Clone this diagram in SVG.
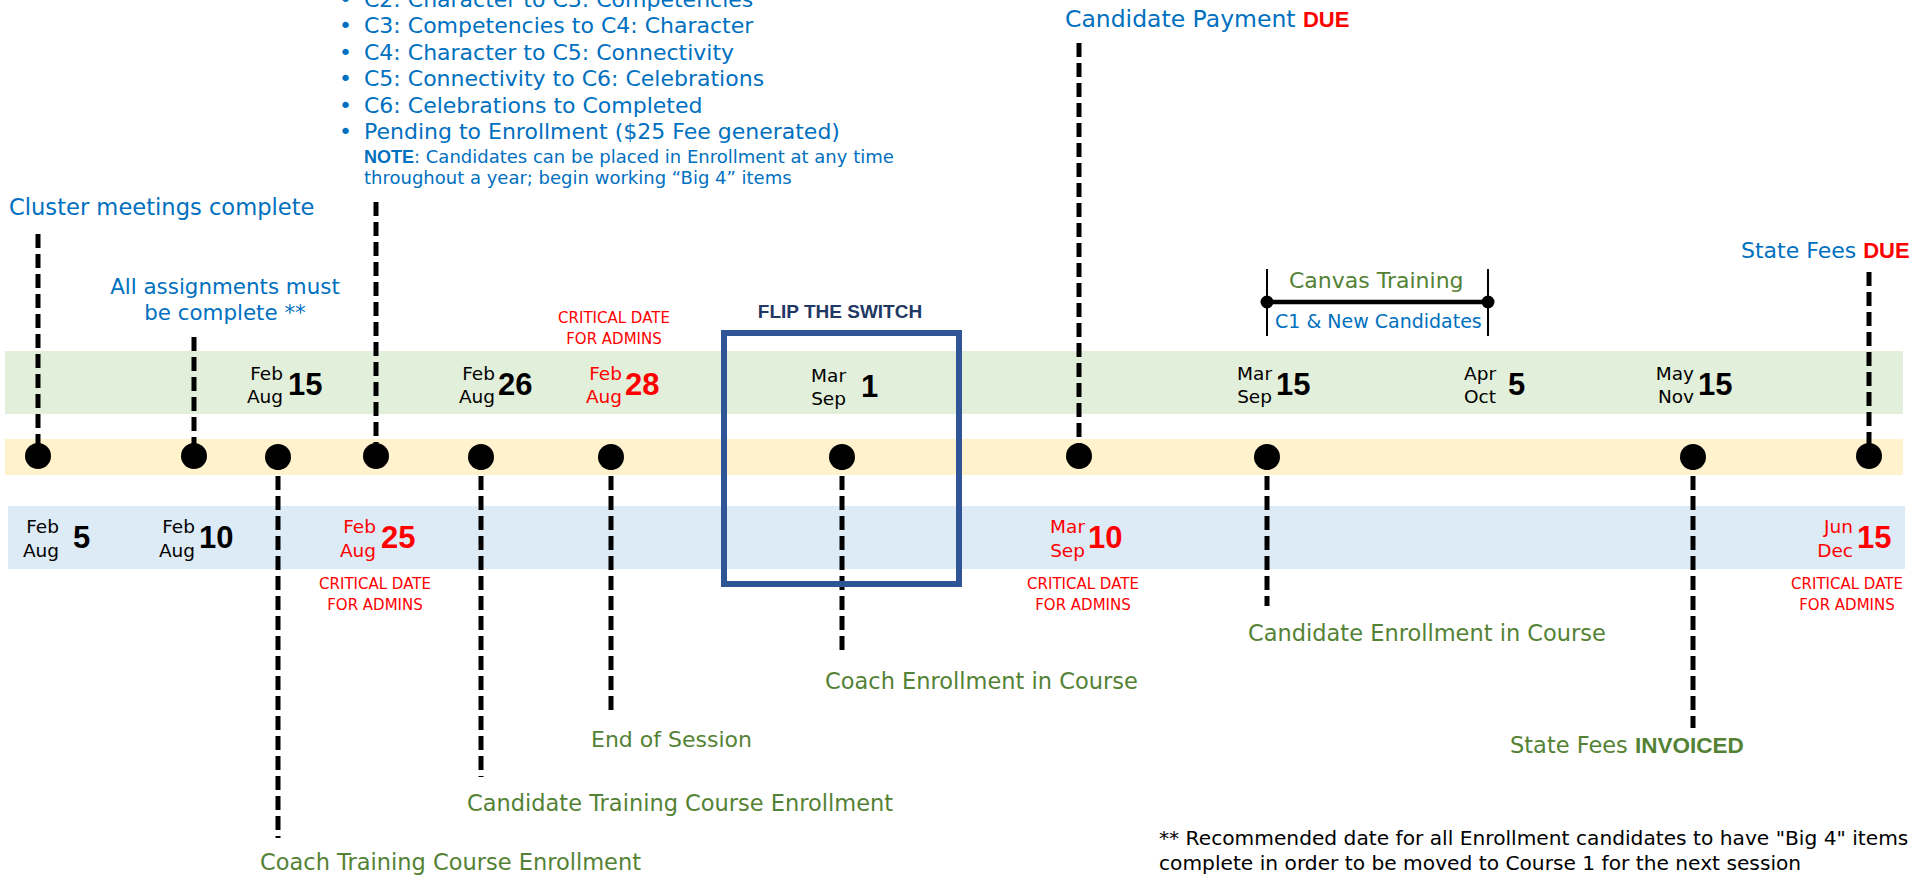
<svg xmlns="http://www.w3.org/2000/svg" width="1931" height="878" viewBox="0 0 1931 878">
<style>
text{font-family:"DejaVu Sans",sans-serif;}
.blue{fill:#0070C0}
.green{fill:#548235}
.red{fill:#FF0000}
.blk{fill:#000}
.lbl{font-size:22.5px}
.list{font-size:22px;fill:#0070C0}
.mon{font-size:18.5px;text-anchor:end}
.num{font-family:"Liberation Sans",Arial,sans-serif;font-weight:bold;font-size:31px}
.bold{font-family:"Liberation Sans",Arial,sans-serif;font-weight:bold}
.crit{font-size:15px;fill:#FF0000;text-anchor:middle}
.dash{stroke:#000;stroke-width:5;stroke-dasharray:14 6;fill:none}
.dot{fill:#000}
</style>
<g id="bands">
<rect x="5" y="351" width="1898" height="63" fill="#E2EFDA"/>
<rect x="5" y="439" width="1898" height="36" fill="#FFF2CC"/>
<rect x="8" y="506" width="1897" height="63" fill="#DDEBF7"/>
</g>
<g id="connectors">
<line class="dash" x1="38" y1="234" x2="38" y2="456"/>
<line class="dash" x1="194" y1="337" x2="194" y2="456"/>
<line class="dash" x1="278" y1="456" x2="278" y2="838"/>
<line class="dash" x1="376" y1="202" x2="376" y2="456"/>
<line class="dash" x1="481" y1="456" x2="481" y2="777"/>
<line class="dash" x1="611" y1="456" x2="611" y2="712"/>
<line class="dash" x1="842" y1="456" x2="842" y2="652"/>
<line class="dash" x1="1079" y1="43" x2="1079" y2="456"/>
<line class="dash" x1="1267" y1="456" x2="1267" y2="606"/>
<line class="dash" x1="1693" y1="456" x2="1693" y2="728"/>
<line class="dash" x1="1869" y1="272" x2="1869" y2="456"/>
</g>
<g id="dots">
<circle class="dot" cx="38" cy="456" r="13"/>
<circle class="dot" cx="194" cy="456" r="13"/>
<circle class="dot" cx="278" cy="457" r="13"/>
<circle class="dot" cx="376" cy="456" r="13"/>
<circle class="dot" cx="481" cy="457" r="13"/>
<circle class="dot" cx="611" cy="457" r="13"/>
<circle class="dot" cx="842" cy="457" r="13"/>
<circle class="dot" cx="1079" cy="456" r="13"/>
<circle class="dot" cx="1267" cy="457" r="13"/>
<circle class="dot" cx="1693" cy="457" r="13"/>
<circle class="dot" cx="1869" cy="456" r="13"/>
</g>
<g id="status-list">
<text class="list" x="339" y="6.5">•</text><text class="list" x="364" y="6.5">C2: Character to C3: Competencies</text>
<text class="list" x="339" y="33">•</text><text class="list" x="364" y="33">C3: Competencies to C4: Character</text>
<text class="list" x="339" y="59.5">•</text><text class="list" x="364" y="59.5">C4: Character to C5: Connectivity</text>
<text class="list" x="339" y="86">•</text><text class="list" x="364" y="86">C5: Connectivity to C6: Celebrations</text>
<text class="list" x="339" y="112.5">•</text><text class="list" x="364" y="112.5">C6: Celebrations to Completed</text>
<text class="list" x="339" y="139">•</text><text class="list" x="364" y="139">Pending to Enrollment ($25 Fee generated)</text>
<text class="blue" x="364" y="163" font-size="18"><tspan class="bold">NOTE</tspan>: Candidates can be placed in Enrollment at any time</text>
<text class="blue" x="364" y="184" font-size="18">throughout a year; begin working “Big 4” items</text>
</g>
<g id="cluster">
<text class="blue" x="9" y="215" font-size="22.6">Cluster meetings complete</text>
<text class="mon blk" x="59" y="533">Feb</text><text class="mon blk" x="59" y="557">Aug</text><text class="num blk" x="73" y="548">5</text>
</g>
<g id="assignments">
<text class="blue" x="225" y="294" font-size="21.4" text-anchor="middle">All assignments must</text>
<text class="blue" x="225" y="320" font-size="21.4" text-anchor="middle">be complete **</text>
<text class="mon blk" x="195" y="533">Feb</text><text class="mon blk" x="195" y="557">Aug</text><text class="num blk" x="199" y="548">10</text>
</g>
<g id="coach-training">
<text class="mon blk" x="283" y="380">Feb</text><text class="mon blk" x="283" y="403">Aug</text><text class="num blk" x="288" y="395">15</text>
<text class="lbl green" x="260" y="870">Coach Training Course Enrollment</text>
</g>
<g id="pending">
<text class="mon red" x="376" y="533">Feb</text><text class="mon red" x="376" y="557">Aug</text><text class="num red" x="381" y="548">25</text>
<text class="crit" x="375" y="589">CRITICAL DATE</text><text class="crit" x="375" y="610">FOR ADMINS</text>
</g>
<g id="candidate-training">
<text class="mon blk" x="495" y="380">Feb</text><text class="mon blk" x="495" y="403">Aug</text><text class="num blk" x="498" y="395">26</text>
<text class="lbl green" x="467" y="811">Candidate Training Course Enrollment</text>
</g>
<g id="end-of-session">
<text class="crit" x="614" y="323">CRITICAL DATE</text><text class="crit" x="614" y="344">FOR ADMINS</text>
<text class="mon red" x="622" y="380">Feb</text><text class="mon red" x="622" y="403">Aug</text><text class="num red" x="625" y="395">28</text>
<text class="green" x="591" y="747" font-size="22">End of Session</text>
</g>
<g id="flip-the-switch">
<text class="bold" x="840" y="318" font-size="19" text-anchor="middle" fill="#1F3864">FLIP THE SWITCH</text>
<rect x="724" y="333" width="235" height="251" fill="none" stroke="#2F5597" stroke-width="6"/>
<text class="mon blk" x="846" y="382">Mar</text><text class="mon blk" x="846" y="405">Sep</text><text class="num blk" x="861" y="397">1</text>
<text class="lbl green" x="825" y="689">Coach Enrollment in Course</text>
</g>
<g id="candidate-payment">
<text class="blue" x="1065" y="27" font-size="23.5">Candidate Payment <tspan class="bold red" font-size="22">DUE</tspan></text>
<text class="mon red" x="1085" y="533">Mar</text><text class="mon red" x="1085" y="557">Sep</text><text class="num red" x="1088" y="548">10</text>
<text class="crit" x="1083" y="589">CRITICAL DATE</text><text class="crit" x="1083" y="610">FOR ADMINS</text>
</g>
<g id="candidate-enrollment">
<text class="mon blk" x="1272" y="380">Mar</text><text class="mon blk" x="1272" y="403">Sep</text><text class="num blk" x="1276" y="395">15</text>
<text class="lbl green" x="1248" y="641">Candidate Enrollment in Course</text>
</g>
<g id="canvas-training">
<line x1="1267" y1="269" x2="1267" y2="336" stroke="#000" stroke-width="2"/>
<line x1="1488" y1="269" x2="1488" y2="336" stroke="#000" stroke-width="2"/>
<line x1="1267" y1="302" x2="1488" y2="302" stroke="#000" stroke-width="4.5"/>
<circle cx="1267" cy="302" r="6.5" fill="#000"/>
<circle cx="1488" cy="302" r="6.5" fill="#000"/>
<text class="green" x="1289" y="288" font-size="22">Canvas Training</text>
<text class="blue" x="1275" y="328" font-size="19">C1 &amp; New Candidates</text>
</g>
<g id="apr-oct">
<text class="mon blk" x="1496" y="380">Apr</text><text class="mon blk" x="1496" y="403">Oct</text><text class="num blk" x="1508" y="395">5</text>
</g>
<g id="state-fees-invoiced">
<text class="mon blk" x="1694" y="380">May</text><text class="mon blk" x="1694" y="403">Nov</text><text class="num blk" x="1698" y="395">15</text>
<text class="lbl green" x="1510" y="753">State Fees <tspan class="bold">INVOICED</tspan></text>
</g>
<g id="state-fees-due">
<text class="blue" x="1741" y="258" font-size="22">State Fees <tspan class="bold red">DUE</tspan></text>
<text class="mon red" x="1853" y="533">Jun</text><text class="mon red" x="1853" y="557">Dec</text><text class="num red" x="1857" y="548">15</text>
<text class="crit" x="1847" y="589">CRITICAL DATE</text><text class="crit" x="1847" y="610">FOR ADMINS</text>
</g>
<g id="footnote">
<text x="1159" y="845" font-size="20.2" fill="#000">** Recommended date for all Enrollment candidates to have "Big 4" items</text>
<text x="1159" y="870" font-size="20.2" fill="#000">complete in order to be moved to Course 1 for the next session</text>
</g>
</svg>
